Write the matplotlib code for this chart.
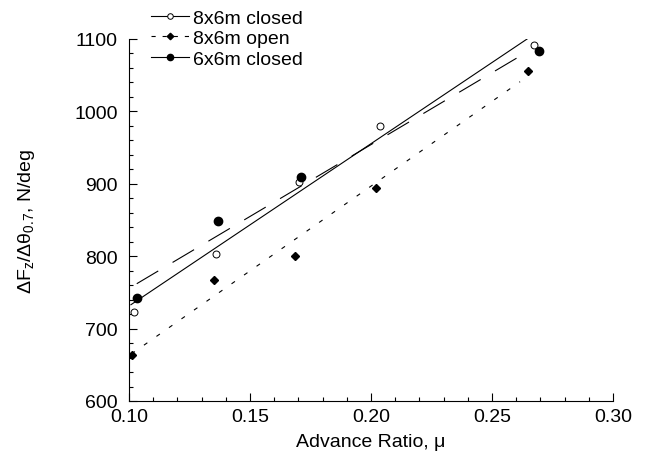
import matplotlib
matplotlib.use("Agg")
import matplotlib.pyplot as plt
from matplotlib.lines import Line2D
from matplotlib.ticker import MultipleLocator, FormatStrFormatter

plt.rcParams['font.family'] = ['Liberation Sans', 'DejaVu Sans']
plt.rcParams['lines.scale_dashes'] = False

# Data
mu_8c = [0.1019, 0.1361, 0.1703, 0.2039, 0.2674]
fz_8c = [722.5, 802.6, 903.0, 980.0, 1092.0]

mu_8o = [0.1011, 0.1350, 0.1685, 0.2022, 0.2650]
fz_8o = [664.0, 767.5, 800.7, 893.8, 1056.0]

mu_6c = [0.1032, 0.1369, 0.1712, 0.2694]
fz_6c = [741.8, 849.0, 909.8, 1083.0]

# Fitted lines (endpoints)
fit_8c_x = [0.1008, 0.2645]
fit_8c_y = [733.0, 1100.0]
fit_8o_x = [0.1010, 0.2616]
fit_8o_y = [665.0, 1041.0]
fit_6c_x = [0.1032, 0.2619]
fit_6c_y = [762.0, 1077.0]

labels = ['8x6m closed', '8x6m open', '6x6m closed']

FS = 14

fig = plt.figure(figsize=(6.45, 4.6), dpi=100)
ax = fig.add_axes([129/645, 1-402/460, (613-129)/645, (402-40)/460])

ax.plot(fit_8c_x, fit_8c_y, color='black', lw=0.8, ls='-')
ax.plot(fit_8o_x, fit_8o_y, color='black', lw=0.8, ls=(0, (3, 8)))
ax.plot(fit_6c_x, fit_6c_y, color='black', lw=0.8, ls=(0, (18, 12)))

ax.plot(mu_8c, fz_8c, ls='none', marker='o', ms=5, mfc='white', mec='black', mew=0.7)
ax.plot(mu_8o, fz_8o, ls='none', marker='D', ms=4.3, mfc='black', mec='black')
ax.plot(mu_6c, fz_6c, ls='none', marker='o', ms=6, mfc='black', mec='black')

ax.set_xlim(0.10, 0.30)
ax.set_ylim(600, 1100)
ax.xaxis.set_major_locator(MultipleLocator(0.05))
ax.xaxis.set_minor_locator(MultipleLocator(0.01))
ax.yaxis.set_major_locator(MultipleLocator(100))
ax.yaxis.set_minor_locator(MultipleLocator(20))
ax.xaxis.set_major_formatter(FormatStrFormatter('%.2f'))
ax.tick_params(which='both', direction='in', labelsize=FS, width=0.8)
ax.tick_params(which='major', length=6, pad=5)
ax.tick_params(which='minor', length=3)
ax.tick_params(axis='y', pad=8)
for s in ['top', 'right']:
    ax.spines[s].set_visible(False)
for s in ['left', 'bottom']:
    ax.spines[s].set_linewidth(0.8)

ax.set_xlabel('Advance Ratio, μ', fontsize=FS, labelpad=6)
ax.set_ylabel('ΔF$_\\mathregular{z}$/Δθ$_\\mathregular{0.7}$, N/deg', fontsize=FS, labelpad=27)

handles = [
    Line2D([], [], color='black', lw=0.8, ls='-', marker='o', ms=4, mfc='white', mec='black', mew=0.7),
    Line2D([], [], color='black', lw=0.8, ls=(0, (3, 5)), marker='D', ms=3.3, mfc='black', mec='black'),
    Line2D([], [], color='black', lw=0.8, ls='-', marker='o', ms=4.5, mfc='black', mec='black'),
]
fig.legend(handles, labels, loc='upper left', bbox_to_anchor=(151/645, 1 - 10/460),
           frameon=False, fontsize=FS, handlelength=1.95, handletextpad=0.2,
           labelspacing=0.15, borderpad=0, borderaxespad=0)

fig.savefig('out.png', dpi=100)
